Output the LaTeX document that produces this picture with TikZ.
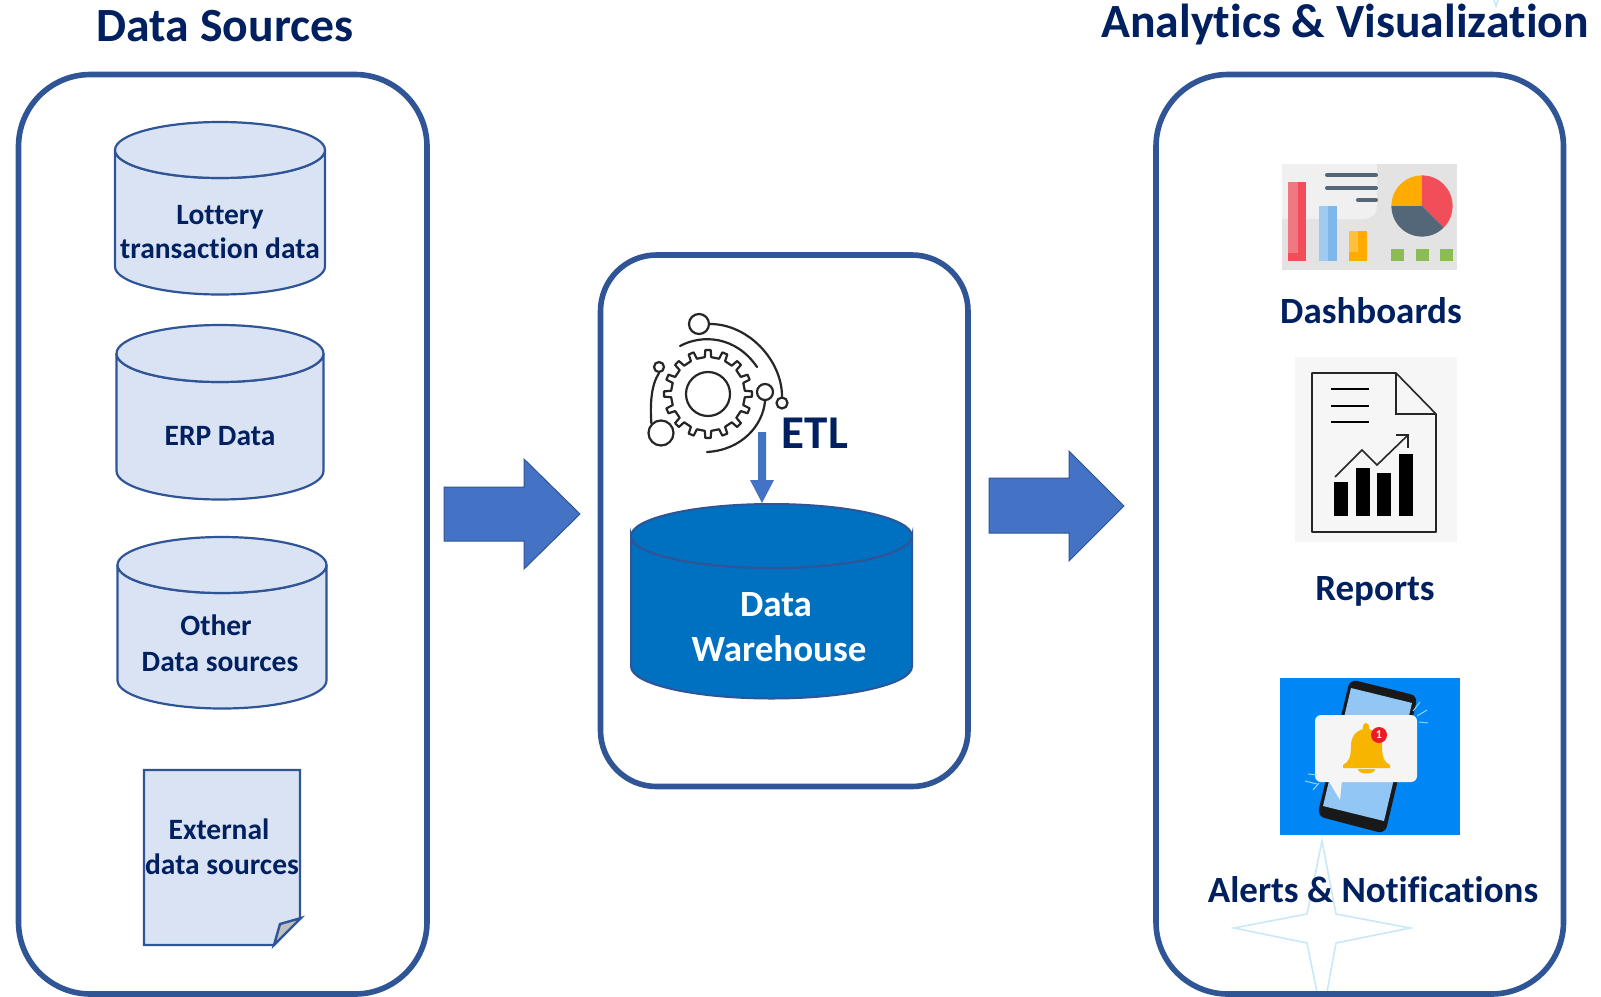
\documentclass[tikz,border=0pt]{standalone}
\usepackage{fontspec}
\setmainfont[Ligatures=CommonOff]{Carlito}
\definecolor{navy}{HTML}{002060}
\definecolor{panelblue}{HTML}{2F5597}
\definecolor{cylfill}{HTML}{DAE3F3}
\definecolor{arrowblue}{HTML}{4472C4}
\definecolor{dwblue}{HTML}{0070C0}
\definecolor{starblue}{HTML}{C9E9F8}
\definecolor{slate}{RGB}{83,103,120}
\definecolor{greenbox}{RGB}{140,188,85}
\definecolor{alertbg}{RGB}{0,135,245}
\definecolor{screenblue}{RGB}{145,198,245}
\definecolor{bubble}{RGB}{245,245,245}
\definecolor{bell}{RGB}{248,181,0}
\definecolor{badgered}{RGB}{237,28,36}
\definecolor{ray}{RGB}{150,210,245}
\definecolor{chartred}{RGB}{242,78,90}
\definecolor{chartredlt}{RGB}{240,120,130}
\definecolor{chartblue}{RGB}{125,183,235}
\definecolor{chartbluelt}{RGB}{160,203,240}
\definecolor{chartorange}{RGB}{255,171,0}
\definecolor{chartorangelt}{RGB}{255,192,60}
\tikzset{
 panel/.style={draw=panelblue,line width=5.6pt},
 lab/.style={font=\fontsize{29.5}{34}\selectfont\bfseries,text=navy,anchor=base,inner sep=0pt},
 headtext/.style={font=\fontsize{47.7}{52}\selectfont\bfseries,text=navy,anchor=base,inner sep=0pt},
 captext/.style={font=\fontsize{37}{42}\selectfont\bfseries,text=navy,anchor=base,inner sep=0pt},
 cylstyle/.style={draw=panelblue,line width=2.2pt,fill=cylfill},
 blockarrow/.style={fill=arrowblue,draw=panelblue,line width=1pt},
 gearline/.style={draw=black!85,line width=2.2pt,line cap=round},
 gearring/.style={circle,draw=black!85,line width=2.2pt,inner sep=0pt},
 starline/.style={draw=starblue,line width=1.6pt}
}
% x1 x2 y1 y2 ry style
\newcommand{\cylshape}[6]{%
 \path[#6] (#1,#3+#5) -- (#1,#4-#5) arc[start angle=180,end angle=0,x radius={(#2-#1)/2},y radius=#5] -- (#2,#3+#5) arc[start angle=0,end angle=180,x radius={(#2-#1)/2},y radius=#5] -- cycle;
 \path[#6] ({(#1+#2)/2},#3+#5) ellipse[x radius={(#2-#1)/2},y radius=#5];
}
\begin{document}
\begin{tikzpicture}[x=1pt,y=-1pt]
\useasboundingbox (0,0) rectangle (1601,996);
\fill[white] (0,0) rectangle (1601,996);
% stars
\draw[starline,line join=miter] (1322,841) -- (1336,914) -- (1410,928) -- (1336,943) -- (1327,992) -- (1317,992) -- (1307,943) -- (1234,928) -- (1307,914) -- cycle;
\draw[starline] (1494,0) -- (1496,6) -- (1498,0);
% panels
\draw[panel,rounded corners=72pt] (18.5,74.5) rectangle (427,994);
\draw[panel,rounded corners=56pt] (600.5,255) rectangle (968,786.5);
\draw[panel,rounded corners=72pt] (1156,74.5) rectangle (1563.5,994);
% headings
\node[headtext] (hsrc) at (225,41) {Data Sources};
\node[headtext] (hana) at (1345,37) {Analytics \& Visualization};
% cylinders
\cylshape{115}{325}{122}{294.5}{28}{cylstyle}
\cylshape{116.5}{323.5}{325}{499.5}{28.5}{cylstyle}
\cylshape{117.5}{326.5}{537}{708.5}{28}{cylstyle}
\node[lab] (c1a) at (220,224) {Lottery};
\node[lab] (c1b) at (220,258) {transaction data};
\node[lab] (c2) at (220,445) {ERP Data};
\node[lab] (c3a) at (216,635) {Other};
\node[lab] (c3b) at (220,671) {Data sources};
% document
\draw[cylstyle,line join=miter,line width=2.4pt] (144,770) -- (300,770) -- (300,918) -- (274,945) -- (144,945) -- cycle;
\fill[gray!50] (280,924) -- (301,918) -- (274,944) -- cycle;
\draw[panelblue,line width=2.4pt,line join=miter] (274,945) -- (280,924) -- (301,918) -- cycle;
\node[lab] (d1) at (219,839) {External};
\node[lab] (d2) at (222,874) {data sources};
% block arrows
\draw[blockarrow] (444,487) -- (524,487) -- (524,459) -- (580,514) -- (524,569) -- (524,541) -- (444,541) -- cycle;
\draw[blockarrow] (989,478) -- (1069,478) -- (1069,451) -- (1124,506) -- (1069,561) -- (1069,533) -- (989,533) -- cycle;
% gear icon
\begin{scope}[shift={(708,394)}]
\draw[gearline,line join=round] (-5:37)
 \foreach \i in {0,...,15} {
   -- ({\i*22.5-5}:37) -- ({\i*22.5-3.5}:44) -- ({\i*22.5+3.5}:44) -- ({\i*22.5+5}:37) -- ({\i*22.5+17.5}:37)
 } -- cycle;
\draw[gearline] (0,0) circle[radius=22];
\end{scope}
\node[gearring,minimum size=20pt] (g1) at (699,324) {};
\node[gearring,minimum size=11pt] (g2) at (782,403) {};
\node[gearring,minimum size=16pt] (g3) at (765,392) {};
\node[gearring,minimum size=10pt] (g4) at (659,367) {};
\node[gearring,minimum size=25pt] (g5) at (661,433) {};
\draw[gearline] (g1.east) .. controls (748,324) and (782,360) .. (g2.north);
\coordinate (g6a) at (680,346); \coordinate (g6b) at (757,367);
\draw[gearline] (g6a) .. controls (702,334) and (736,336) .. (g6b);
\coordinate (g7) at (707,452);
\draw[gearline] (g3.south) .. controls (763,425) and (742,450) .. (g7);
\draw[gearline] (g4.south) .. controls (651,385) and (650,405) .. (g5.north west);
\node[font=\fontsize{47}{52}\selectfont\bfseries,text=navy,anchor=base,inner sep=0pt] (etl) at (815,448) {ETL};
% data warehouse
\cylshape{631}{912}{504}{698.5}{32}{draw=panelblue,line width=2pt,fill=dwblue}
\node[captext,text=white] (dw1) at (776,616) {Data};
\node[captext,text=white] (dw2) at (779,661) {Warehouse};
% ETL arrow
\fill[arrowblue] (758,432) -- (766,432) -- (766,480) -- (774,480) -- (762,503) -- (750,480) -- (758,480) -- cycle;
% dashboard image
\fill[gray!22] (1282,164) rectangle (1457,270);
\fill[gray!12] (1282,164) -- (1377,164) -- (1377,205) .. controls (1377,214) and (1372,219) .. (1362,219) -- (1282,219) -- cycle;
\fill[chartredlt] (1288,182) rectangle (1298,253);
\fill[chartred] (1298,182) rectangle (1306,261);
\fill[chartred] (1288,253) rectangle (1306,261);
\fill[chartbluelt] (1319,206) rectangle (1328,261);
\fill[chartblue] (1328,206) rectangle (1337,261);
\fill[chartorange] (1349,231) rectangle (1367,261);
\fill[chartorangelt] (1349,231) rectangle (1358,252);
\foreach \a/\b/\c in {1325/1378/175,1325/1378/188,1356/1378/200}
  \draw[slate,line width=4pt,line cap=round] (\a+2,\c) -- (\b-2,\c);
\fill[chartorange] (1422,206) -- +(180:30.6) arc[start angle=180,end angle=270,radius=30.6] -- cycle;
\fill[chartred] (1422,206) -- +(270:30.6) arc[start angle=270,end angle=405,radius=30.6] -- cycle;
\fill[slate] (1422,206) -- +(45:30.6) arc[start angle=45,end angle=180,radius=30.6] -- cycle;
\foreach \a in {1391,1416,1440}
  \fill[greenbox] (\a,249) rectangle (\a+12.5,261);
\node[captext] (t1) at (1371,323) {Dashboards};
% report image
\fill[gray!7] (1295,357) rectangle (1457,542);
\draw[black!85,line width=1.6pt,line join=round] (1312,373) -- (1396,373) -- (1436,414) -- (1436,532) -- (1312,532) -- cycle;
\draw[black!85,line width=1.6pt] (1396,373) -- (1396,414) -- (1436,414);
\foreach \c in {389,406,422}
  \draw[black,line width=1.3pt] (1331,\c) -- (1369,\c);
\fill[black] (1334,482) rectangle (1348,516);
\fill[black] (1356,468) rectangle (1370,516);
\fill[black] (1377,473) rectangle (1391,516);
\fill[black] (1399,454) rectangle (1413,516);
\draw[black!85,line width=1.6pt] (1335,477) -- (1362,450) -- (1377,465) -- (1408,435);
\draw[black!85,line width=1.6pt] (1396,435) -- (1408,435) -- (1408,448);
\node[captext] (t2) at (1375,600) {Reports};
% alert image
\fill[alertbg] (1280,678) rectangle (1460,835);
\draw[black!90,fill=black!90,line width=3pt,rounded corners=6pt,line join=round] (1351,681) -- (1416,697) -- (1384,832) -- (1319,815) -- cycle;
\fill[screenblue] (1351,688) -- (1412,703) -- (1384,821) -- (1323,806) -- cycle;
\fill[bubble,rounded corners=6pt] (1315,715) rectangle (1417,782);
\fill[bubble] (1328,780) -- (1342,780) -- (1340,800) -- cycle;
\fill[bell] (1366,723) .. controls (1362,724) and (1363,728) .. (1363,729) .. controls (1354,732) and (1351,738) .. (1351,746) .. controls (1351,757) and (1349,762) .. (1343,765) -- (1343,768) -- (1390,768) -- (1390,765) .. controls (1384,762) and (1382,757) .. (1382,746) .. controls (1382,738) and (1378,732) .. (1369,729) .. controls (1369,728) and (1370,724) .. (1366,723) -- cycle;
\fill[bell] (1358,769) -- (1375,769) .. controls (1375,775) and (1358,775) .. (1358,769) -- cycle;
\node[circle,fill=badgered,minimum size=16pt,inner sep=0pt,text=white,font=\fontsize{12}{12}\selectfont\bfseries] (badge) at (1379,735) {1};
\foreach \a/\b/\c/\d in {1413/711/1420/702, 1417/716/1427/710, 1419/722/1428/723, 1308/774/1317/775, 1305/781/1317/784, 1313/790/1319/783}
  \draw[ray,line width=1pt] (\a,\b) -- (\c,\d);
\node[captext] (t3) at (1373,902) {Alerts \& Notifications};
\end{tikzpicture}
\end{document}
